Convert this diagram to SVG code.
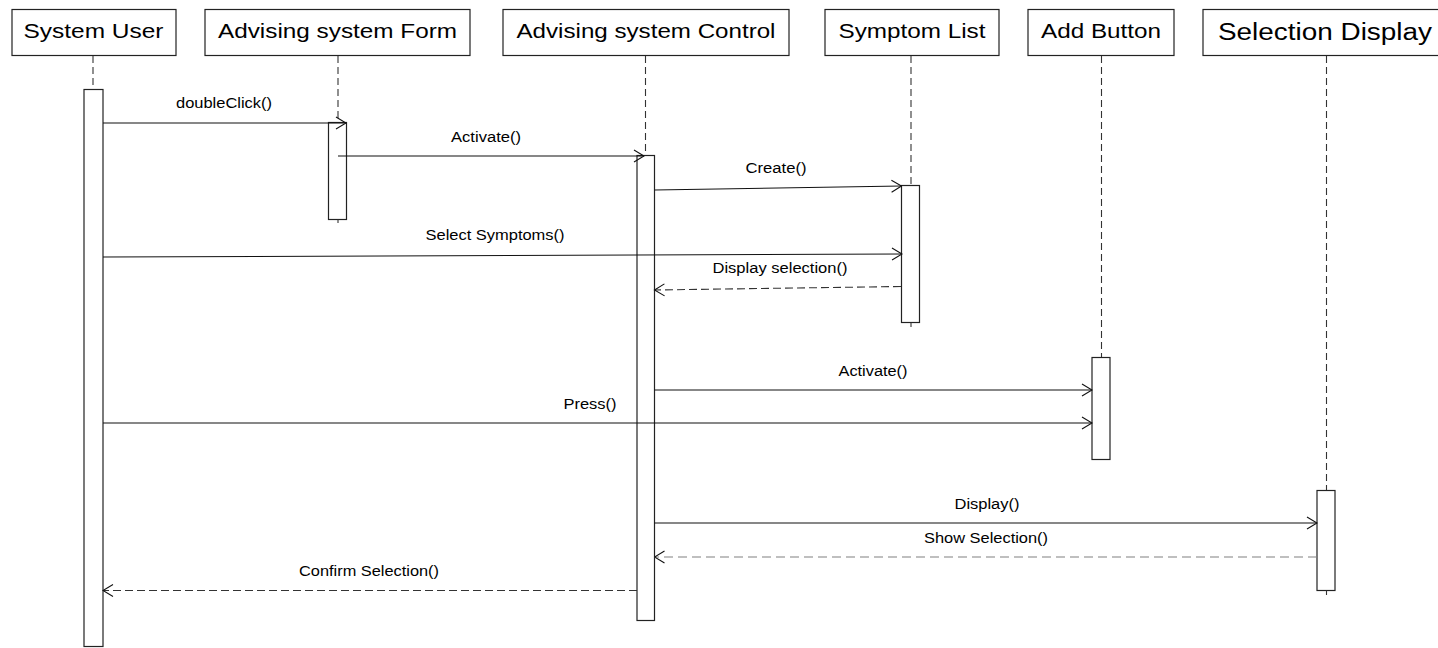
<svg xmlns="http://www.w3.org/2000/svg" width="1438" height="648" viewBox="0 0 1438 648">
  <style>
    .head { fill: #ffffff; stroke: #222222; stroke-width: 1.2; }
    .head-text { font-family: "Liberation Sans", Arial, sans-serif; font-size: 20px; fill: #000000; text-anchor: middle; }
    .life { stroke: #333333; stroke-width: 1.1; stroke-dasharray: 7 4; fill: none; }
    .act { fill: #ffffff; stroke: #222222; stroke-width: 1.2; }
    .msg { stroke: #111111; stroke-width: 1.1; fill: none; marker-end: url(#open); }
    .ret { stroke: #333333; stroke-width: 1.1; fill: none; stroke-dasharray: 8 4; marker-end: url(#open); }
    .ret-light { stroke: #808080; stroke-width: 1.1; fill: none; stroke-dasharray: 9 5; marker-end: url(#open); }
    .label { font-family: "Liberation Sans", Arial, sans-serif; font-size: 14px; fill: #000000; text-anchor: middle; }
  </style>
  <defs>
    <marker id="open" viewBox="0 0 12 14" refX="11" refY="7" markerWidth="12" markerHeight="14" markerUnits="userSpaceOnUse" orient="auto">
      <path d="M1,1 L11,7 L1,13" fill="none" stroke="#111111" stroke-width="1.1"/>
    </marker>
  </defs>

  <rect width="1438" height="648" fill="#ffffff"/>

  <!-- Participant: System User -->
  <g id="system-user">
    <rect class="head" x="12" y="9.5" width="164" height="46"/>
    <text class="head-text" x="93.5" y="37.5" textLength="140" lengthAdjust="spacingAndGlyphs">System User</text>
    <line class="life" x1="93" y1="56" x2="93" y2="89"/>
    <rect class="act" x="84" y="89.5" width="19" height="557"/>
  </g>

  <!-- Participant: Advising system Form -->
  <g id="advising-form">
    <rect class="head" x="205" y="9.5" width="265" height="46"/>
    <text class="head-text" x="337.5" y="37.5" textLength="239" lengthAdjust="spacingAndGlyphs">Advising system Form</text>
    <line class="life" x1="338" y1="56" x2="338" y2="123"/>
    <rect class="act" x="328.5" y="122.5" width="18" height="97"/>
    <line class="life" x1="338" y1="219.5" x2="338" y2="223"/>
  </g>

  <!-- Participant: Advising system Control -->
  <g id="advising-control">
    <rect class="head" x="503" y="9.5" width="286" height="46"/>
    <text class="head-text" x="646" y="37.5" textLength="259" lengthAdjust="spacingAndGlyphs">Advising system Control</text>
    <line class="life" x1="645.5" y1="56" x2="645.5" y2="155"/>
    <rect class="act" x="637" y="155.5" width="17.5" height="465"/>
  </g>

  <!-- Participant: Symptom List -->
  <g id="symptom-list">
    <rect class="head" x="825" y="9.5" width="174" height="46"/>
    <text class="head-text" x="912" y="37.5" textLength="147" lengthAdjust="spacingAndGlyphs">Symptom List</text>
    <line class="life" x1="911" y1="56" x2="911" y2="185" stroke="#777777"/>
    <rect class="act" x="901.5" y="185.5" width="18" height="137"/>
    <line class="life" x1="911" y1="322.5" x2="911" y2="327" stroke="#777777"/>
  </g>

  <!-- Participant: Add Button -->
  <g id="add-button">
    <rect class="head" x="1028" y="9.5" width="146" height="46"/>
    <text class="head-text" x="1101" y="37.5" textLength="120" lengthAdjust="spacingAndGlyphs">Add Button</text>
    <line class="life" x1="1101.5" y1="56" x2="1101.5" y2="357"/>
    <rect class="act" x="1092" y="357.5" width="18" height="102"/>
  </g>

  <!-- Participant: Selection Display -->
  <g id="selection-display">
    <rect class="head" x="1203" y="9.5" width="250" height="46"/>
    <text class="head-text" x="1325" y="40" style="font-size:23px" textLength="214" lengthAdjust="spacingAndGlyphs">Selection Display</text>
    <line class="life" x1="1326.5" y1="56" x2="1326.5" y2="490"/>
    <rect class="act" x="1317" y="490.5" width="18" height="100"/>
    <line class="life" x1="1326.5" y1="590.5" x2="1326.5" y2="595"/>
  </g>

  <!-- Messages -->
  <g id="connectors">
    <line class="msg" x1="103" y1="123" x2="346" y2="123"/>
    <text class="label" x="224" y="108" textLength="96" lengthAdjust="spacingAndGlyphs">doubleClick()</text>

    <line class="msg" x1="338" y1="156" x2="644" y2="156"/>
    <text class="label" x="486" y="142" textLength="70" lengthAdjust="spacingAndGlyphs">Activate()</text>

    <line class="msg" x1="654.5" y1="190" x2="901.5" y2="186"/>
    <text class="label" x="776" y="173" textLength="61" lengthAdjust="spacingAndGlyphs">Create()</text>

    <line class="msg" x1="103" y1="257" x2="902" y2="254"/>
    <text class="label" x="495" y="240" textLength="139" lengthAdjust="spacingAndGlyphs">Select Symptoms()</text>

    <line class="ret" x1="901" y1="286.5" x2="654.5" y2="290" stroke="#555555"/>
    <text class="label" x="780" y="273" textLength="135" lengthAdjust="spacingAndGlyphs">Display selection()</text>

    <line class="msg" x1="654.5" y1="390" x2="1092" y2="390"/>
    <text class="label" x="873" y="376" textLength="69" lengthAdjust="spacingAndGlyphs">Activate()</text>

    <line class="msg" x1="103" y1="423" x2="1092" y2="423"/>
    <text class="label" x="590" y="409" textLength="53" lengthAdjust="spacingAndGlyphs">Press()</text>

    <line class="msg" x1="654.5" y1="523" x2="1317" y2="523"/>
    <text class="label" x="987" y="508.5" textLength="65" lengthAdjust="spacingAndGlyphs">Display()</text>

    <line class="ret-light" x1="1317" y1="557" x2="654.5" y2="557"/>
    <text class="label" x="986" y="542.5" textLength="124" lengthAdjust="spacingAndGlyphs">Show Selection()</text>

    <line class="ret" x1="637" y1="590.5" x2="103" y2="590.5"/>
    <text class="label" x="369" y="576" textLength="140" lengthAdjust="spacingAndGlyphs">Confirm Selection()</text>
  </g>
</svg>
